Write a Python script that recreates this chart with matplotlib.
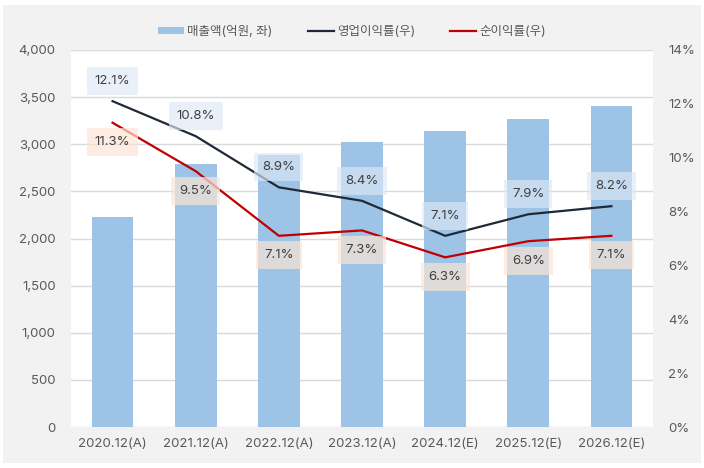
import matplotlib
matplotlib.use("Agg")
import matplotlib.pyplot as plt
from matplotlib.patches import Rectangle
from matplotlib.ticker import FuncFormatter, MultipleLocator

plt.rcParams['font.family'] = ['Inter', 'Noto Sans CJK KR', 'DejaVu Sans']

# data
periods = ['2020.12(A)', '2021.12(A)', '2022.12(A)', '2023.12(A)',
           '2024.12(E)', '2025.12(E)', '2026.12(E)']
sales = [2228, 2790, 2885, 3024, 3140, 3268, 3410]        # 억원
op_margin = [12.1, 10.8, 8.9, 8.4, 7.1, 7.9, 8.2]          # %
net_margin = [11.3, 9.5, 7.1, 7.3, 6.3, 6.9, 7.1]          # %

TXT = '#595959'
BAR = '#9dc3e6'
OPC = '#1f2937'
NETC = '#c00000'

fig = plt.figure(figsize=(7.04, 4.68), dpi=100, facecolor='white')
fig.patches.append(Rectangle((3 / 704, 5 / 468), 698 / 704, 458 / 468,
                             transform=fig.transFigure, facecolor='#f2f2f2',
                             edgecolor='none', zorder=-10))

ax = fig.add_axes([71 / 704, 41 / 468, 582 / 704, 377 / 468])
ax.set_facecolor('white')
x = range(len(periods))
ax.bar(x, sales, width=0.5, color=BAR, zorder=2, label='매출액(억원, 좌)')
ax.set_ylim(0, 4000)
ax.set_xlim(-0.5, len(periods) - 0.5)
ax.yaxis.set_major_locator(MultipleLocator(500))
ax.yaxis.set_major_formatter(FuncFormatter(lambda v, p: f'{v:,.0f}'))
ax.grid(axis='y', color='#d9d9d9', lw=1, zorder=0)
ax.set_axisbelow(True)
for s in ax.spines.values():
    s.set_visible(False)
ax.set_xticks(list(x))
ax.set_xticklabels(periods)
ax.tick_params(length=0, colors=TXT, labelsize=9.5)
ax.tick_params(axis='y', pad=11)
ax.tick_params(axis='x', pad=8)

ax2 = ax.twinx()
ax2.set_ylim(0, 14)
ax2.yaxis.set_major_locator(MultipleLocator(2))
ax2.yaxis.set_major_formatter(FuncFormatter(lambda v, p: f'{v:.0f}%'))
for s in ax2.spines.values():
    s.set_visible(False)
ax2.tick_params(length=0, colors=TXT, labelsize=9.5, pad=11)

l1, = ax2.plot(x, op_margin, color=OPC, lw=1.6, zorder=4, label='영업이익률(우)')
l2, = ax2.plot(x, net_margin, color=NETC, lw=1.6, zorder=4, label='순이익률(우)')

for i, v in enumerate(op_margin):
    ax2.annotate(f'{v:.1f}%', (i, v), xytext=(0, 14.5), textcoords='offset points',
                 ha='center', va='center', fontsize=9.5, color='#404040', zorder=5,
                 bbox=dict(boxstyle='square,pad=0.6', fc='#dfe8f6', ec='none', alpha=0.65))
for i, v in enumerate(net_margin):
    ax2.annotate(f'{v:.1f}%', (i, v), xytext=(0, -14), textcoords='offset points',
                 ha='center', va='center', fontsize=9.5, color='#404040', zorder=5,
                 bbox=dict(boxstyle='square,pad=0.6', fc='#fbe5d6', ec='none', alpha=0.7))

handles = [ax.containers[0], l1, l2]
fig.legend(handles, [h.get_label() for h in handles], loc='center',
           bbox_to_anchor=(0.5, 1 - 32 / 468), ncol=3, frameon=False,
           fontsize=9, labelcolor=TXT, handlelength=2.1, handleheight=0.5,
           columnspacing=2.8, handletextpad=0.25)

fig.savefig('out.png', dpi=100, facecolor=fig.get_facecolor())
